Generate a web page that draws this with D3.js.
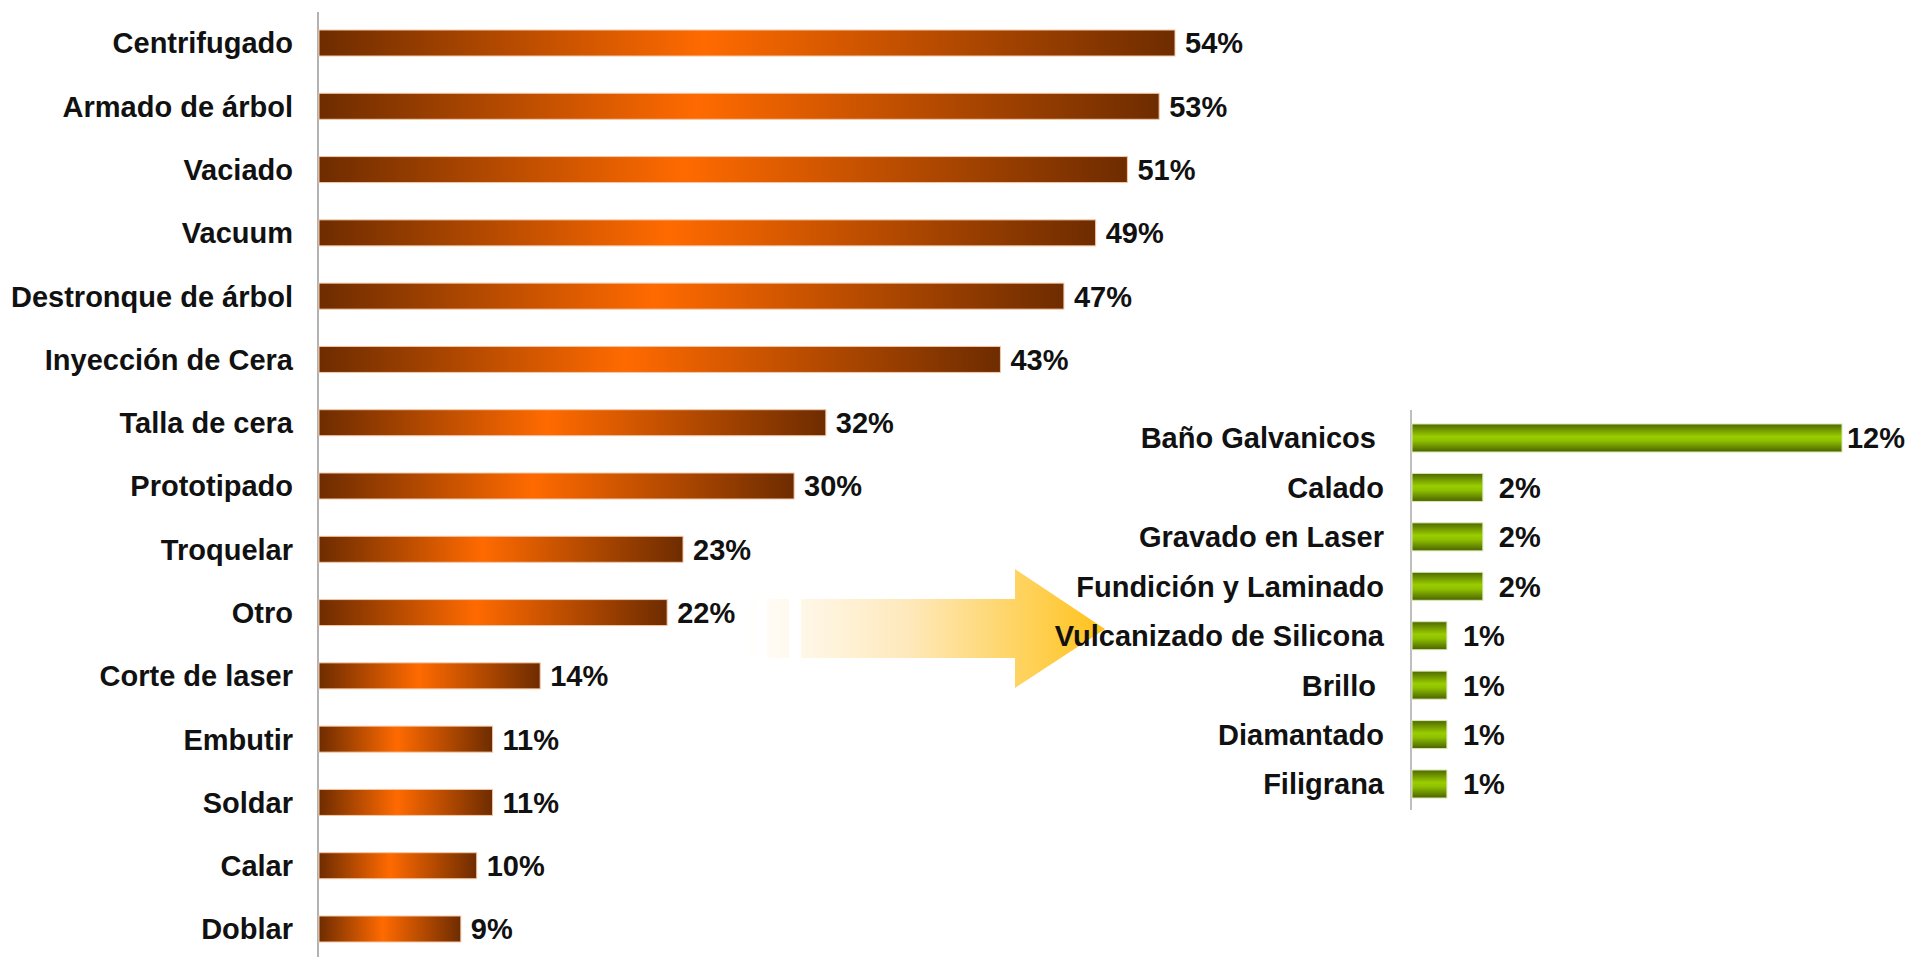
<!DOCTYPE html>
<html lang="es">

<head>
  <meta charset="UTF-8">
  <title>Procesos</title>
  <script src="https://d3js.org/d3.v7.min.js"></script>
  <style>
    body {
      margin: 0;
      background-color: #fff;
    }

    svg {
      display: block;
    }

    text {
      font-family: 'Liberation Sans', Arial, sans-serif;
      font-weight: bold;
      font-size: 29px;
      fill: #111;
      white-space: pre;
    }
  </style>
</head>

<body>
  <svg></svg>
  <script>
    // datos del grafico principal
    const leftCategories = ["Centrifugado", "Armado de árbol", "Vaciado", "Vacuum", "Destronque de árbol",
      "Inyección de Cera", "Talla de cera", "Prototipado", "Troquelar", "Otro", "Corte de laser",
      "Embutir", "Soldar", "Calar", "Doblar"];
    const leftValues = [54, 53, 51, 49, 47, 43, 32, 30, 23, 22, 14, 11, 11, 10, 9];

    // desglose de "Otro"
    const rightCategories = ["Baño Galvanicos ", "Calado", "Gravado en Laser", "Fundición y Laminado",
      "Vulcanizado de Silicona", "Brillo ", "Diamantado", "Filigrana"];
    const rightValues = [12, 2, 2, 2, 1, 1, 1, 1];

    const W = 1909, H = 957;
    const svg = d3.select("svg").attr("width", W).attr("height", H);
    const defs = svg.append("defs");

    const orange = defs.append("linearGradient").attr("id", "orange")
      .attr("x1", "0%").attr("x2", "100%").attr("y1", "0%").attr("y2", "0%");
    orange.append("stop").attr("offset", "0%").attr("stop-color", "#6e2c00");
    orange.append("stop").attr("offset", "45%").attr("stop-color", "#ff6a00");
    orange.append("stop").attr("offset", "100%").attr("stop-color", "#6e2c00");

    const green = defs.append("linearGradient").attr("id", "green")
      .attr("x1", "0%").attr("x2", "0%").attr("y1", "0%").attr("y2", "100%");
    green.append("stop").attr("offset", "0%").attr("stop-color", "#4f6800");
    green.append("stop").attr("offset", "45%").attr("stop-color", "#9acd00");
    green.append("stop").attr("offset", "60%").attr("stop-color", "#8fc000");
    green.append("stop").attr("offset", "100%").attr("stop-color", "#4a6200");

    const arrowGrad = defs.append("linearGradient").attr("id", "arrowGrad")
      .attr("gradientUnits", "userSpaceOnUse")
      .attr("x1", 745).attr("x2", 1105).attr("y1", 0).attr("y2", 0);
    arrowGrad.append("stop").attr("offset", "0%").attr("stop-color", "#ffffff");
    arrowGrad.append("stop").attr("offset", "45%").attr("stop-color", "#fee9bc");
    arrowGrad.append("stop").attr("offset", "100%").attr("stop-color", "#ffc21a");

    // flecha
    const arrowPts = [[801, 599], [1015, 599], [1015, 569], [1105, 629], [1015, 688], [1015, 658], [801, 658]];
    svg.append("path")
      .attr("d", "M" + arrowPts.join("L") + "Z")
      .attr("fill", "url(#arrowGrad)");
    [[745, 756], [767, 789]].forEach(function (s) {
      svg.append("rect").attr("x", s[0]).attr("y", 599).attr("width", s[1] - s[0]).attr("height", 59)
        .attr("fill", "url(#arrowGrad)");
    });

    // grafico izquierdo
    const xL = d3.scaleLinear().domain([0, 54]).range([318, 1175]);
    const yL = d3.scalePoint().domain(leftCategories).range([43, 929]);
    const barHL = 26;

    svg.append("line")
      .attr("x1", xL(0)).attr("x2", xL(0)).attr("y1", 12).attr("y2", H)
      .attr("stroke", "#999").attr("stroke-width", 1.5);

    const left = svg.append("g");
    left.selectAll("rect").data(leftValues).join("rect")
      .attr("x", xL(0) + 1)
      .attr("y", (d, i) => yL(leftCategories[i]) - barHL / 2)
      .attr("width", d => xL(d) - xL(0) - 1)
      .attr("height", barHL)
      .attr("fill", "url(#orange)")
      .attr("stroke", "#f4c7a6").attr("stroke-width", 1);

    left.selectAll(".cat").data(leftCategories).join("text")
      .attr("class", "cat")
      .attr("x", 293)
      .attr("y", d => yL(d))
      .attr("dy", "0.36em")
      .attr("text-anchor", "end")
      .text(d => d);

    left.selectAll(".val").data(leftValues).join("text")
      .attr("class", "val")
      .attr("x", d => xL(d) + 10)
      .attr("y", (d, i) => yL(leftCategories[i]))
      .attr("dy", "0.36em")
      .text(d => d + "%");

    // grafico derecho
    const xR = d3.scaleLinear().domain([0, 12]).range([1411, 1842]);
    const yR = d3.scalePoint().domain(rightCategories).range([438, 784]);
    const barHR = 28;

    svg.append("line")
      .attr("x1", xR(0)).attr("x2", xR(0)).attr("y1", 410).attr("y2", 810)
      .attr("stroke", "#aaa").attr("stroke-width", 1.5);

    const right = svg.append("g");
    right.selectAll("rect").data(rightValues).join("rect")
      .attr("x", xR(0) + 1)
      .attr("y", (d, i) => yR(rightCategories[i]) - barHR / 2)
      .attr("width", d => xR(d) - xR(0) - 1)
      .attr("height", barHR)
      .attr("fill", "url(#green)")
      .attr("stroke", "#d8e8b0").attr("stroke-width", 1);

    right.selectAll(".cat").data(rightCategories).join("text")
      .attr("class", "cat")
      .attr("x", 1384)
      .attr("y", d => yR(d))
      .attr("dy", "0.36em")
      .attr("text-anchor", "end")
      .text(d => d);

    right.selectAll(".val").data(rightValues).join("text")
      .attr("class", "val")
      .attr("x", d => xR(d) + 16)
      .attr("y", (d, i) => yR(rightCategories[i]))
      .attr("dy", "0.36em")
      .text(d => d + "%")
      .each(function (d) {
        // la etiqueta del 12% queda pegada al borde
        const w = this.getComputedTextLength();
        if (xR(d) + 16 + w > W - 4) d3.select(this).attr("x", W - 4 - w);
      });
  </script>
</body>

</html>
